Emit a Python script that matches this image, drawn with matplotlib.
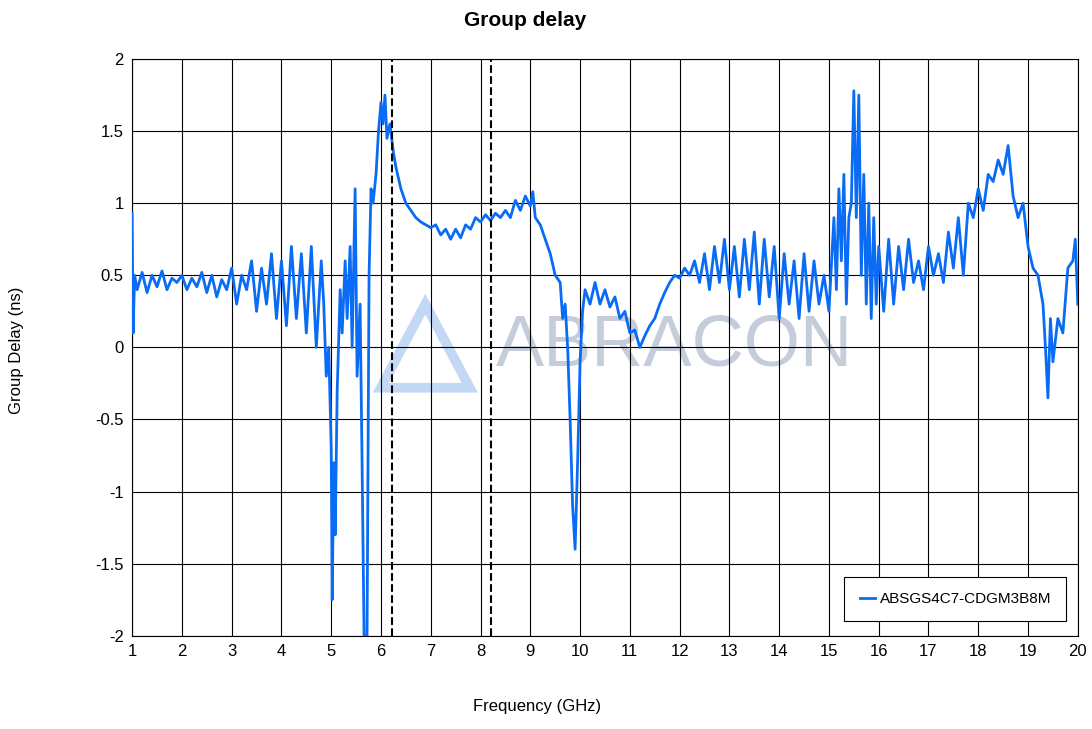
import matplotlib
matplotlib.use("Agg")
import matplotlib.pyplot as plt
from matplotlib.patches import Polygon

plt.rcParams['font.family'] = ['Liberation Sans', 'DejaVu Sans']

freq = [1.0,1.02,1.05,1.1,1.2,1.3,1.4,1.5,1.6,1.7,1.8,1.9,2.0,2.1,2.2,2.3,2.4,2.5,2.6,2.7,2.8,2.9,3.0,3.1,3.2,3.3,3.4,3.5,3.6,3.7,3.8,3.9,4.0,4.1,4.2,4.3,4.4,4.5,4.6,4.7,4.8,4.85,4.9,4.95,5.0,5.02,5.05,5.08,5.12,5.18,5.22,5.28,5.32,5.38,5.42,5.48,5.52,5.58,5.62,5.66,5.72,5.76,5.8,5.84,5.9,5.95,6.0,6.04,6.08,6.12,6.18,6.25,6.3,6.4,6.5,6.6,6.7,6.8,7.0,7.1,7.2,7.3,7.4,7.5,7.6,7.7,7.8,7.9,8.0,8.1,8.2,8.3,8.4,8.5,8.6,8.7,8.8,8.9,9.0,9.05,9.1,9.2,9.3,9.4,9.5,9.6,9.65,9.7,9.75,9.8,9.85,9.9,9.95,10.0,10.05,10.1,10.2,10.3,10.4,10.5,10.6,10.7,10.8,10.9,11.0,11.1,11.2,11.3,11.4,11.5,11.6,11.7,11.8,11.9,12.0,12.1,12.2,12.3,12.4,12.5,12.6,12.7,12.8,12.9,13.0,13.1,13.2,13.3,13.4,13.5,13.6,13.7,13.8,13.9,14.0,14.1,14.2,14.3,14.4,14.5,14.6,14.7,14.8,14.9,15.0,15.1,15.15,15.2,15.25,15.3,15.35,15.4,15.45,15.5,15.55,15.6,15.65,15.7,15.75,15.8,15.85,15.9,15.95,16.0,16.1,16.2,16.3,16.4,16.5,16.6,16.7,16.8,16.9,17.0,17.1,17.2,17.3,17.4,17.5,17.6,17.7,17.8,17.9,18.0,18.1,18.2,18.3,18.4,18.5,18.6,18.7,18.8,18.9,19.0,19.1,19.2,19.3,19.35,19.4,19.45,19.5,19.6,19.7,19.8,19.9,19.95,20.0]
delay = [0.93,0.1,0.5,0.4,0.52,0.38,0.5,0.42,0.53,0.4,0.48,0.45,0.5,0.4,0.48,0.42,0.52,0.38,0.5,0.35,0.47,0.4,0.55,0.3,0.5,0.4,0.6,0.25,0.55,0.3,0.65,0.2,0.6,0.15,0.7,0.2,0.65,0.1,0.7,0.0,0.6,0.3,-0.2,0.0,-0.7,-1.75,-0.8,-1.3,-0.3,0.4,0.1,0.6,0.2,0.7,0.0,1.1,-0.2,0.3,-0.8,-2.0,-2.0,0.5,1.1,1.0,1.2,1.5,1.7,1.55,1.75,1.45,1.55,1.35,1.25,1.1,1.0,0.95,0.9,0.87,0.83,0.85,0.78,0.82,0.75,0.82,0.76,0.85,0.82,0.9,0.87,0.92,0.88,0.93,0.9,0.95,0.9,1.02,0.95,1.05,0.98,1.08,0.9,0.85,0.75,0.65,0.5,0.45,0.2,0.3,0.0,-0.5,-1.1,-1.4,-0.8,-0.1,0.25,0.4,0.3,0.45,0.3,0.4,0.28,0.35,0.2,0.25,0.1,0.12,0.0,0.08,0.15,0.2,0.3,0.38,0.45,0.5,0.48,0.55,0.5,0.6,0.45,0.65,0.4,0.7,0.45,0.75,0.4,0.7,0.35,0.75,0.4,0.8,0.3,0.75,0.35,0.7,0.2,0.65,0.3,0.6,0.2,0.65,0.25,0.6,0.3,0.5,0.25,0.9,0.4,1.1,0.6,1.2,0.3,0.9,1.0,1.78,0.9,1.75,0.5,1.2,0.3,1.0,0.2,0.9,0.3,0.7,0.25,0.75,0.3,0.7,0.4,0.75,0.45,0.6,0.4,0.7,0.5,0.65,0.45,0.8,0.55,0.9,0.5,1.0,0.9,1.1,0.95,1.2,1.15,1.3,1.2,1.4,1.05,0.9,1.0,0.7,0.55,0.5,0.3,0.0,-0.35,0.2,-0.1,0.2,0.1,0.55,0.6,0.75,0.3]
markers = [6.22, 8.22]
series_name = "ABSGS4C7-CDGM3B8M"

fig = plt.figure(figsize=(10.92, 7.29), dpi=100)
ax = fig.add_axes([0.121, 0.128, 0.866, 0.791])
ax.set_xlim(1, 20)
ax.set_ylim(-2, 2)
ax.set_xticks(range(1, 21))
ax.set_yticks([-2, -1.5, -1, -0.5, 0, 0.5, 1, 1.5, 2])
ax.set_yticklabels(['-2', '-1.5', '-1', '-0.5', '0', '0.5', '1', '1.5', '2'])
ax.grid(True, color='black', linewidth=0.8)
ax.tick_params(length=0, labelsize=12, pad=6)
for s in ax.spines.values():
    s.set_linewidth(0.8)

# watermark
tri = Polygon([[0.263, 0.43], [0.31, 0.575], [0.357, 0.43]], closed=True, fill=False,
              edgecolor='#a8c8f0', linewidth=7, alpha=0.7, transform=ax.transAxes, zorder=1)
ax.add_patch(tri)
ax.text(0.385, 0.5, "ABRACON", transform=ax.transAxes, fontsize=52, color='#8090b0',
        alpha=0.45, va='center', ha='left', zorder=1)

ax.plot(freq, delay, color='#0a6cf5', linewidth=2.0, label=series_name, zorder=3)
for m in markers:
    ax.axvline(m, color='black', linestyle='--', linewidth=1.5, zorder=4)

leg = ax.legend(loc='lower right', fontsize=11, fancybox=False, edgecolor='black',
                framealpha=1, handlelength=1.0, handletextpad=0.3, borderpad=1.0,
                bbox_to_anchor=(0.996, 0.012))
leg.get_frame().set_linewidth(0.8)

fig.text(0.481, 0.985, "Group delay", fontsize=15, fontweight='bold', ha='center', va='top')
fig.text(0.492, 0.02, "Frequency (GHz)", fontsize=12, ha='center', va='bottom')
fig.text(0.008, 0.52, "Group Delay (ns)", fontsize=12, rotation=90, ha='left', va='center')
fig.savefig("out.png", dpi=100)
